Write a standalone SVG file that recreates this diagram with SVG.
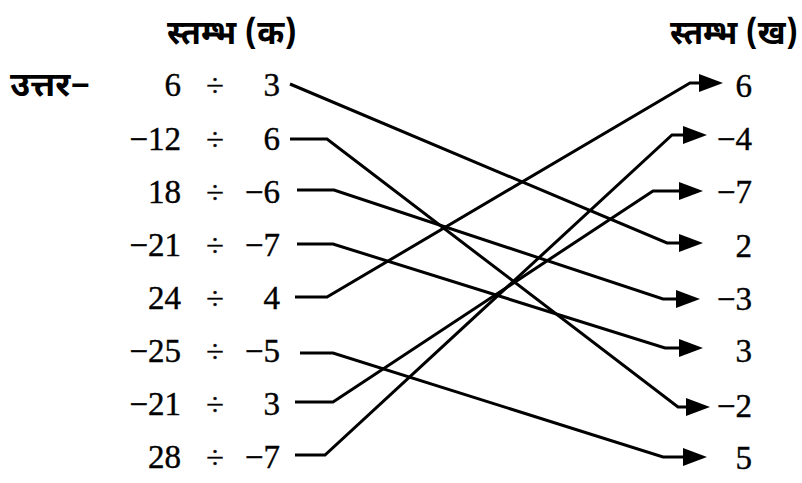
<svg xmlns="http://www.w3.org/2000/svg" width="802" height="483" viewBox="0 0 802 483">
<style>
.n{font-family:'Liberation Serif','Times New Roman',serif;fill:#000;stroke:#000;stroke-width:0.4}
.t{font-size:33px}
.d{font-size:32px;text-anchor:middle}
.e{text-anchor:end}
.h{font-family:'Noto Sans Devanagari','Noto Serif Devanagari','Lohit Devanagari',sans-serif;font-size:33px;font-weight:bold;fill:#000}
.c{fill:none;stroke:#000;stroke-width:3;stroke-linejoin:miter;marker-end:url(#ah)}
</style>
<defs>
<marker id="ah" markerUnits="userSpaceOnUse" markerWidth="26" markerHeight="20" refX="14" refY="9" orient="auto">
<path d="M0,0 L24,9 L0,18 z" fill="#000"/>
</marker>
</defs>
<g id="headers">
<text class="h" x="167" y="44" textLength="130" lengthAdjust="spacingAndGlyphs">स्तम्भ (क)</text>
<text class="h" x="670" y="44" textLength="128" lengthAdjust="spacingAndGlyphs">स्तम्भ (ख)</text>
<text class="h" x="10" y="96" textLength="80" lengthAdjust="spacingAndGlyphs">उत्तर−</text>
</g>
<g id="left" class="n">
<g id="l1"><text class="t e" x="181" y="96">6</text><text class="d" x="215" y="96">÷</text><text class="t e" x="280" y="96">3</text></g>
<g id="l2"><text class="t e" x="181" y="150">−12</text><text class="d" x="215" y="150">÷</text><text class="t e" x="280" y="150">6</text></g>
<g id="l3"><text class="t e" x="181" y="203">18</text><text class="d" x="215" y="203">÷</text><text class="t e" x="280" y="203">−6</text></g>
<g id="l4"><text class="t e" x="181" y="256">−21</text><text class="d" x="215" y="256">÷</text><text class="t e" x="280" y="256">−7</text></g>
<g id="l5"><text class="t e" x="181" y="309">24</text><text class="d" x="215" y="309">÷</text><text class="t e" x="280" y="309">4</text></g>
<g id="l6"><text class="t e" x="181" y="362">−25</text><text class="d" x="215" y="362">÷</text><text class="t e" x="280" y="362">−5</text></g>
<g id="l7"><text class="t e" x="181" y="415">−21</text><text class="d" x="215" y="415">÷</text><text class="t e" x="280" y="415">3</text></g>
<g id="l8"><text class="t e" x="181" y="468">28</text><text class="d" x="215" y="468">÷</text><text class="t e" x="280" y="468">−7</text></g>
</g>
<g id="right" class="n">
<text id="r1" class="t e" x="752" y="97">6</text>
<text id="r2" class="t e" x="752" y="150">−4</text>
<text id="r3" class="t e" x="752" y="203">−7</text>
<text id="r4" class="t e" x="752" y="257">2</text>
<text id="r5" class="t e" x="752" y="310">−3</text>
<text id="r6" class="t e" x="752" y="362">3</text>
<text id="r7" class="t e" x="752" y="417">−2</text>
<text id="r8" class="t e" x="752" y="469">5</text>
</g>
<g id="connectors">
<polyline class="c" points="290,84 667,243 693,243"/>
<polyline class="c" points="290,139 327,139 678,407 700,407"/>
<polyline class="c" points="297,190 334,190 663,299 690,299"/>
<polyline class="c" points="297,244 333,244 665,348 693,348"/>
<polyline class="c" points="295,297 327,297 690,83 713,83"/>
<polyline class="c" points="300,353 333,353 663,457 697,457"/>
<polyline class="c" points="295,402 333,402 653,191 693,191"/>
<polyline class="c" points="295,455 325,455 672,135 697,135"/>
</g>
</svg>
